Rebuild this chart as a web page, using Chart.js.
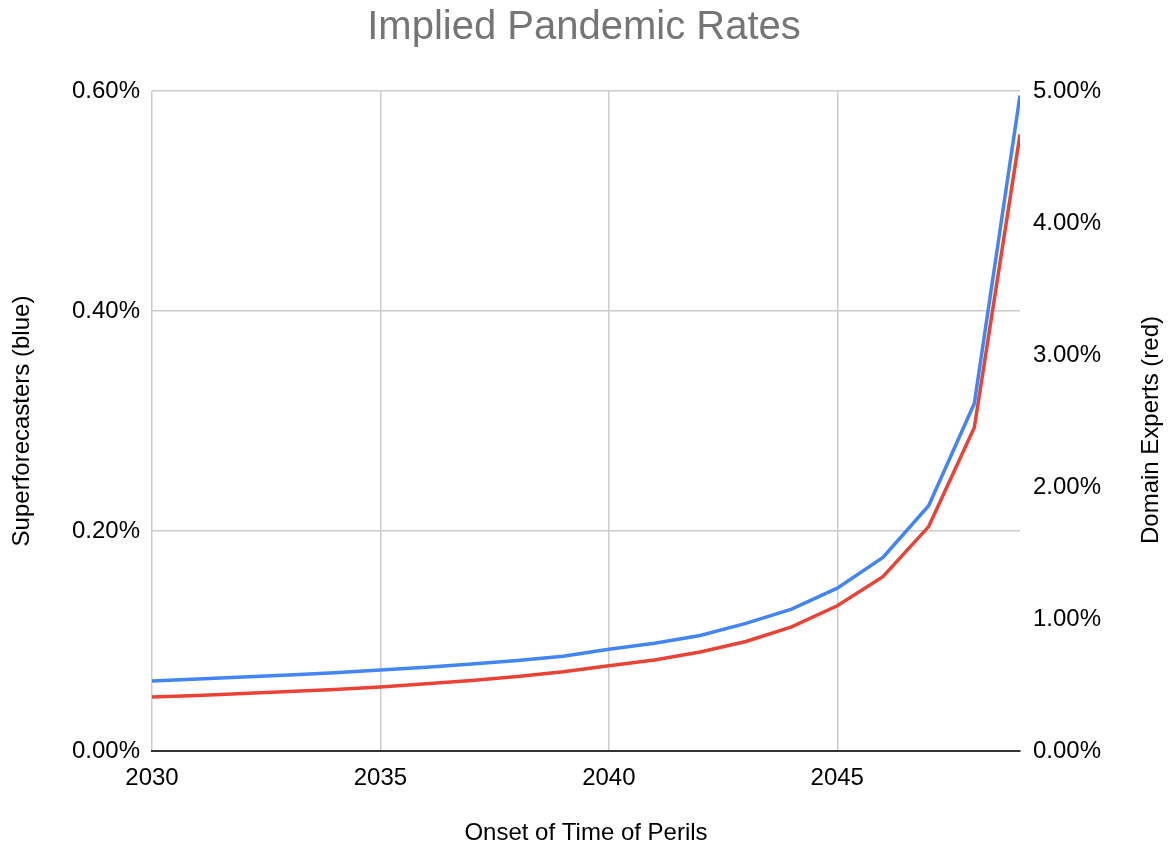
<!DOCTYPE html>
<html>
<head>
<meta charset="utf-8">
<script src="https://cdn.jsdelivr.net/npm/chart.js@4.4.1/dist/chart.umd.min.js"></script>
<style>
  body { margin: 0; background: #fff; }
  #wrap { width: 1168px; height: 848px; position: relative; }
</style>
</head>
<body>
<div id="wrap"><canvas id="ratesChart"></canvas></div>
<script>
// 📌 데이터 (그림에서 읽은 값, %)
const years = [2030, 2031, 2032, 2033, 2034, 2035, 2036, 2037, 2038, 2039,
               2040, 2041, 2042, 2043, 2044, 2045, 2046, 2047, 2048, 2049];
const superforecasters = [0.0636, 0.0654, 0.0672, 0.0690, 0.0712, 0.0736, 0.0762, 0.0790, 0.0822, 0.0862,
                          0.0925, 0.0980, 0.1050, 0.1160, 0.1290, 0.1480, 0.1760, 0.2230, 0.3160, 0.5960];
const domainExperts = [0.410, 0.420, 0.435, 0.450, 0.465, 0.485, 0.510, 0.535, 0.565, 0.600,
                       0.645, 0.690, 0.750, 0.830, 0.940, 1.100, 1.320, 1.700, 2.450, 4.670];
const leftTicks = [0, 0.2, 0.4, 0.6];
const rightTicks = [0, 1, 2, 3, 4, 5];
const xTicks = [2030, 2035, 2040, 2045];
const rightTitle = 'Domain Experts (red)';

const FONT = "'Liberation Sans', Arial, Helvetica, sans-serif";

function toPoints(vals) {
  return years.map((y, i) => ({ x: y, y: vals[i] }));
}

// 📌 오른쪽 축 제목 (아래→위로 읽히게 -90도 회전)
const rightTitlePlugin = {
  id: 'rightTitle',
  afterDraw(chart) {
    const c = chart.ctx;
    const area = chart.chartArea;
    c.save();
    c.translate(chart.width - 17, (area.top + area.bottom) / 2 + 9);
    c.rotate(-Math.PI / 2);
    c.font = `24px ${FONT}`;
    c.fillStyle = '#000';
    c.textAlign = 'center';
    c.textBaseline = 'middle';
    c.fillText(rightTitle, 0, 0);
    c.restore();
  }
};

const ctx = document.getElementById('ratesChart').getContext('2d');
new Chart(ctx, {
  type: 'line',
  data: {
    datasets: [
      {
        label: 'Superforecasters',
        data: toPoints(superforecasters),
        yAxisID: 'yLeft',
        borderColor: '#4285f4',
        borderWidth: 3.5,
        pointRadius: 0,
        tension: 0
      },
      {
        label: 'Domain Experts',
        data: toPoints(domainExperts),
        yAxisID: 'yRight',
        borderColor: '#ea4335',
        borderWidth: 3.5,
        pointRadius: 0,
        tension: 0
      }
    ]
  },
  options: {
    responsive: true,
    maintainAspectRatio: false,
    animation: false,
    layout: { padding: 0 },
    plugins: {
      legend: { display: false },
      tooltip: { enabled: false },
      title: {
        display: true,
        text: 'Implied Pandemic Rates',
        color: '#757575',
        font: { family: FONT, size: 40, weight: 'normal' },
        padding: { top: 4, bottom: 39 }
      }
    },
    scales: {
      x: {
        type: 'linear',
        min: 2030,
        max: 2049,
        afterBuildTicks: s => { s.ticks = xTicks.map(v => ({ value: v })); },
        afterFit: s => { s.height = 97; },
        ticks: {
          color: '#000',
          font: { family: FONT, size: 24 },
          padding: 13,
          maxRotation: 0,
          callback: v => String(v)
        },
        grid: { color: '#cccccc', lineWidth: 1.5, drawTicks: false },
        border: { display: true, color: '#333333', width: 2 },
        title: {
          display: true,
          text: 'Onset of Time of Perils',
          color: '#000',
          font: { family: FONT, size: 24 },
          padding: { top: 0, bottom: 0 }
        }
      },
      yLeft: {
        position: 'left',
        min: 0,
        max: 0.6,
        afterBuildTicks: s => { s.ticks = leftTicks.map(v => ({ value: v })); },
        afterFit: s => { s.width = 152; },
        ticks: {
          color: '#000',
          font: { family: FONT, size: 24 },
          padding: 12,
          callback: v => v.toFixed(2) + '%'
        },
        grid: { color: '#cccccc', lineWidth: 1.5, drawTicks: false },
        border: { display: false },
        title: {
          display: true,
          text: 'Superforecasters (blue)',
          color: '#000',
          font: { family: FONT, size: 24 },
          padding: { top: 8, bottom: 0 }
        }
      },
      yRight: {
        position: 'right',
        min: 0,
        max: 5,
        afterBuildTicks: s => { s.ticks = rightTicks.map(v => ({ value: v })); },
        afterFit: s => { s.width = 148; },
        ticks: {
          color: '#000',
          font: { family: FONT, size: 24 },
          padding: 13,
          callback: v => v.toFixed(2) + '%'
        },
        grid: { display: false, drawTicks: false },
        border: { display: false }
      }
    }
  },
  plugins: [rightTitlePlugin]
});
</script>
</body>
</html>
